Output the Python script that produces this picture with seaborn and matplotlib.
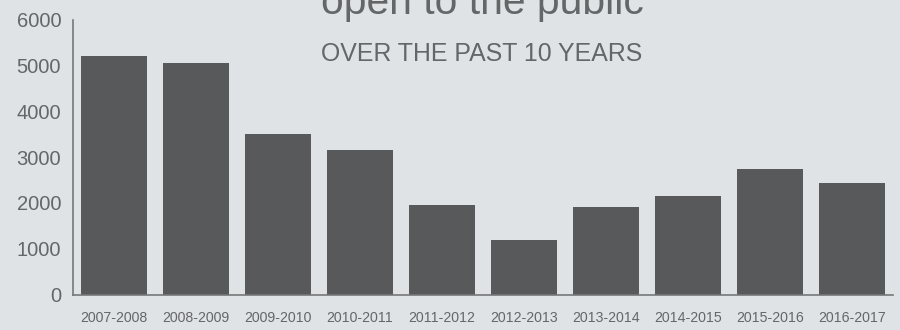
import matplotlib
matplotlib.use("Agg")
import matplotlib.pyplot as plt
import seaborn as sns
import pandas as pd

seasons = ["2007-2008", "2008-2009", "2009-2010", "2010-2011", "2011-2012",
           "2012-2013", "2013-2014", "2014-2015", "2015-2016", "2016-2017"]
values = [5210, 5060, 3510, 3160, 1960, 1200, 1920, 2160, 2750, 2440]
yticks = [0, 1000, 2000, 3000, 4000, 5000, 6000]
title = "open to the public"
subtitle = "OVER THE PAST 10 YEARS"

bg = "#dfe3e6"
bar_color = "#58595b"
text_color = "#656668"

sns.set_theme(style="white")
plt.rcParams["font.family"] = ["Liberation Sans", "DejaVu Sans"]

df = pd.DataFrame({"season": seasons, "value": values})

fig = plt.figure(figsize=(9, 3.3), dpi=100, facecolor=bg)
ax = fig.add_axes([73 / 900, 35.5 / 330, 820 / 900, 274.8 / 330])
ax.set_facecolor(bg)

sns.barplot(data=df, x="season", y="value", color=bar_color, width=0.8,
            saturation=1, ax=ax)
for p in ax.patches:
    p.set_edgecolor("none")

ax.set_xlim(-0.5, len(seasons) - 0.5)
ax.set_ylim(0, 6000)
ax.set_yticks(yticks)
ax.set_yticklabels([str(t) for t in yticks], fontsize=14.5, color=text_color)
ax.set_xticks(range(len(seasons)))
ax.set_xticklabels(seasons, fontsize=10.2, color=text_color)
ax.tick_params(axis="y", length=0, pad=8.5)
ax.tick_params(axis="x", length=0, pad=12)
ax.set_xlabel("")
ax.set_ylabel("")

for s in ["top", "right"]:
    ax.spines[s].set_visible(False)
for s in ["left", "bottom"]:
    ax.spines[s].set_color("#767779")
    ax.spines[s].set_linewidth(1.2)

fig.text(482 / 900, 1 - 14 / 330, title, ha="center", va="baseline",
         fontsize=29.3, color=text_color)
fig.text(482 / 900, 1 - 61 / 330, subtitle, ha="center", va="baseline",
         fontsize=17.9, color=text_color)

fig.savefig("out.png", dpi=100, facecolor=bg)
